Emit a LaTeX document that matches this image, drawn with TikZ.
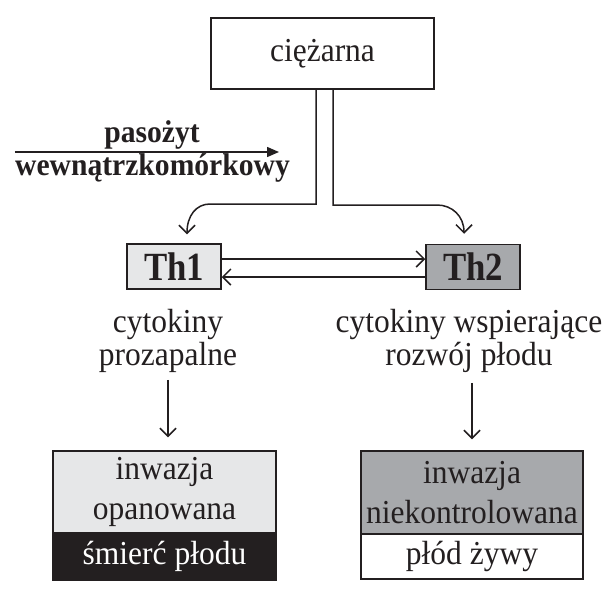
\documentclass[tikz,border=0pt]{standalone}
\usepackage{fontspec}
\setmainfont[FakeStretch=0.94]{Liberation Serif}
\newfontfamily\thserif[FakeStretch=0.87]{Liberation Serif}
\usetikzlibrary{arrows.meta}

\definecolor{ink}{HTML}{231F20}
\definecolor{thlight}{HTML}{E6E7E8}
\definecolor{thdark}{HTML}{A7A9AC}

\tikzset{
  box/.style={draw=ink, line width=1.5pt, inner sep=0pt, text=ink, align=center,
    font=\fontsize{33.5}{40}\selectfont},
  thbox/.style={box, minimum width=94pt, minimum height=45pt,
    font=\thserif\fontsize{40}{40}\selectfont\bfseries},
  txt/.style={text=ink, align=center, inner sep=0pt, font=\fontsize{33.5}{33}\selectfont},
  bold/.style={text=ink, inner sep=0pt, font=\fontsize{31.5}{30}\selectfont\bfseries},
  conn/.style={draw=ink, line width=1.5pt,
    -{Straight Barb[length=8pt,width=16pt,line width=1.5pt]}},
}

\begin{document}
\begin{tikzpicture}[x=1pt,y=-1pt]
\useasboundingbox (0,0) rectangle (607,603);

% top
\node[box, minimum width=223pt, minimum height=71pt] (preg) at (322.5,53.5) {ciężarna};

% parasite
\node[bold, anchor=base] (paso) at (152,142) {pasożyt};
\node[bold, anchor=base] (wewn) at (152.5,175) {wewnątrzkomórkowy};
\coordinate (pin) at (279,152);
\draw[ink, line width=1.5pt, -{Triangle[length=12pt,width=10pt]}] (wewn.west |- pin) -- (pin);

% Th cells
\node[thbox, fill=thlight] (th1) at (174,266.5) {Th1};
\node[thbox, fill=thdark] (th2) at (473,267) {Th2};

\draw[conn] ([xshift=-6.5]preg.south) |- (210,204)
  .. controls (196,204) and (187,216) .. ([xshift=13,yshift=9]th1.north);
\draw[conn] ([xshift=10.5]preg.south) |- (437,205)
  .. controls (452,205) and (464,216) .. ([xshift=-9,yshift=10]th2.north);

\draw[conn] ([yshift=7.5]th1.east) -- ([yshift=7.5]th1.east -| th2.west);
\draw[conn] ([yshift=-10]th2.west) -- ([yshift=-10]th2.west -| th1.east);

% cytokines
\node[txt] (cytL) at (168,341) {cytokiny\\prozapalne};
\node[txt] (cytR) at (469,341) {cytokiny wspierające\\rozwój płodu};

% outcomes
\node[box, fill=thlight, minimum width=223pt, minimum height=82pt] (invL) at (164.5,492) {inwazja\\opanowana};
\node[box, fill=ink, text=white, minimum width=223pt, minimum height=47pt] (deadL) at (164.5,556.5) {śmierć płodu};
\node[box, fill=thdark, minimum width=222pt, minimum height=83pt] (invR) at (472,492.5) {inwazja\\niekontrolowana};
\node[box, fill=white, minimum width=222pt, minimum height=45pt] (liveR) at (472,556.5) {płód żywy};

\draw[conn, shorten <=7pt, shorten >=13pt] (cytL.south) -- (cytL.south |- invL.north);
\draw[conn, shorten <=10pt, shorten >=11pt] (cytR.south -| invR.north) -- (invR.north);
\end{tikzpicture}
\end{document}
